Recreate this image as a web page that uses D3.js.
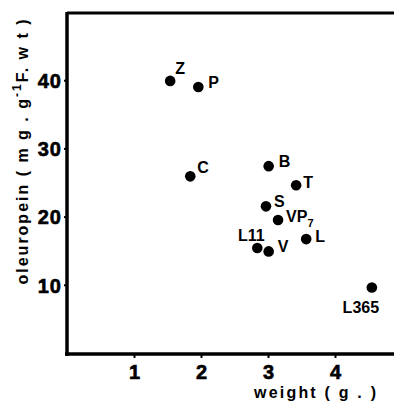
<!DOCTYPE html>
<html>
<head>
<meta charset="utf-8">
<script src="https://cdn.jsdelivr.net/npm/d3@7"></script>
<style>
  body { margin: 0; background: #fff; }
  text { font-family: "Liberation Sans", Arial, Helvetica, sans-serif; font-weight: bold; fill: #000; }
</style>
</head>
<body>
<svg id="chart" width="394" height="403"></svg>
<script>
// cultivar names, fruit weight (g) and oleuropein (mg.g-1 F.wt)
var names = ["Z", "P", "C", "B", "T", "S", "VP", "L", "L11", "V", "L365"];
var weights = [1.54, 1.96, 1.84, 3.01, 3.42, 2.97, 3.15, 3.57, 2.84, 3.01, 4.55];
var oleuropein = [39.9, 39.0, 25.9, 27.4, 24.6, 21.5, 19.5, 16.7, 15.4, 14.9, 9.6];
var subscripts = ["", "", "", "", "", "", "7", "", "", "", ""];

var xTicks = [1, 2, 3, 4];
var yTicks = [10, 20, 30, 40];

// where each label sits relative to its dot
var labelPlace = {
  "Z":    {dx: 5,   dy: -7, anchor: "start"},
  "P":    {dx: 10,  dy: 1,  anchor: "start"},
  "C":    {dx: 7,   dy: -3, anchor: "start"},
  "B":    {dx: 10,  dy: 1,  anchor: "start"},
  "T":    {dx: 7,   dy: 3,  anchor: "start"},
  "S":    {dx: 8,   dy: 1,  anchor: "start"},
  "VP":   {dx: 8,   dy: 2,  anchor: "start"},
  "L":    {dx: 9,   dy: 3,  anchor: "start"},
  "L11":  {dx: -6,  dy: -7, anchor: "middle"},
  "V":    {dx: 9,   dy: 1,  anchor: "start"},
  "L365": {dx: -11, dy: 25, anchor: "middle"}
};

var points = names.map(function(n, i) {
  return {name: n, w: weights[i], o: oleuropein[i], sub: subscripts[i]};
});

var svg = d3.select("#chart");

var x = d3.scaleLinear().domain([0, 5]).range([67, 402]);
var y = d3.scaleLinear().domain([0, 50]).range([353, 12]);

// frame: top line, left and bottom axes (no right side)
svg.append("line")
  .attr("x1", x(0)).attr("x2", 394)
  .attr("y1", y(50) + 1).attr("y2", y(50) + 1)
  .attr("stroke", "#000").attr("stroke-width", 3);

var xAxis = svg.append("g")
  .attr("transform", "translate(0," + (y(0) + 1) + ")")
  .call(d3.axisBottom(x).tickValues(xTicks).tickFormat(d3.format("d"))
    .tickSize(4).tickSizeOuter(0).tickPadding(6));

var yAxis = svg.append("g")
  .attr("transform", "translate(" + x(0) + ",0)")
  .call(d3.axisLeft(y).tickValues(yTicks).tickFormat(d3.format("d"))
    .tickSize(3).tickSizeOuter(0).tickPadding(2));

xAxis.select(".domain").attr("stroke-width", 3.5).attr("d", "M" + (x(0) - 2) + ",0H394");
yAxis.select(".domain").attr("stroke-width", 3.5).attr("d", "M0," + (y(50)) + "V" + (y(0) + 3));
svg.selectAll(".tick line").attr("stroke-width", 2);

xAxis.selectAll(".tick text")
  .attr("font-size", 20).attr("font-family", "Liberation Sans, Arial, sans-serif")
  .attr("font-weight", "bold").attr("dy", "0.75em")
  .attr("stroke", "#000").attr("stroke-width", 0.6);
yAxis.selectAll(".tick text")
  .attr("font-size", 20).attr("font-family", "Liberation Sans, Arial, sans-serif")
  .attr("font-weight", "bold").attr("letter-spacing", 1).attr("dy", "0.36em")
  .attr("stroke", "#000").attr("stroke-width", 0.6);

// dots
svg.selectAll("circle.pt")
  .data(points)
  .enter().append("circle")
  .attr("class", "pt")
  .attr("cx", function(d) { return x(d.w); })
  .attr("cy", function(d) { return y(d.o); })
  .attr("r", 5.3)
  .attr("fill", "#000");

// labels
var labels = svg.selectAll("text.lbl")
  .data(points)
  .enter().append("text")
  .attr("class", "lbl")
  .attr("x", function(d) { return x(d.w) + labelPlace[d.name].dx; })
  .attr("y", function(d) { return y(d.o) + labelPlace[d.name].dy; })
  .attr("text-anchor", function(d) { return labelPlace[d.name].anchor; })
  .attr("font-size", 16);

labels.append("tspan").text(function(d) { return d.name; });
labels.filter(function(d) { return d.sub; })
  .append("tspan")
  .attr("font-size", 11)
  .attr("dy", 5)
  .text(function(d) { return d.sub; });

// axis titles
svg.append("text")
  .attr("x", 315).attr("y", 398)
  .attr("text-anchor", "middle")
  .attr("font-size", 16)
  .attr("textLength", 122).attr("lengthAdjust", "spacing")
  .text("weight ( g . )");

var yt = svg.append("text")
  .attr("transform", "translate(28,152) rotate(-90)")
  .attr("text-anchor", "middle")
  .attr("font-size", 16)
  .attr("textLength", 265).attr("lengthAdjust", "spacing");
yt.append("tspan").text("oleuropein ( m g . g");
yt.append("tspan").attr("font-size", 12).attr("dy", -7).text("-1");
yt.append("tspan").attr("dy", 7).text("F. w t )");
</script>
</body>
</html>
